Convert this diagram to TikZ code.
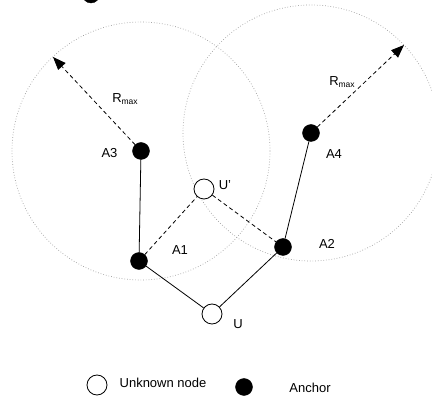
\documentclass[tikz,border=0pt]{standalone}
\usepackage{fontspec}
\setmainfont{Liberation Sans}
\usetikzlibrary{arrows.meta,backgrounds}
\newcommand{\rmaxlabel}{R\raisebox{-2.5pt}{\fontsize{8.5}{9}\selectfont max}}

\begin{document}
\begin{tikzpicture}[x=1pt,y=-1pt,
    every node/.style={font=\fontsize{13}{15}\selectfont},
    anchordot/.style={circle,fill=black,draw=black,inner sep=0pt,minimum size=17pt},
    unknowndot/.style={circle,fill=white,draw=black,line width=0.8pt,inner sep=0pt,minimum size=20pt},
    rangecircle/.style={draw=gray!75,dotted,line width=0.7pt},
    link/.style={line width=0.8pt},
    guess/.style={line width=0.8pt,dash pattern=on 4pt off 3pt},
    rangearrow/.style={guess,-{Triangle[length=13pt,width=10pt]}}]
    \useasboundingbox (0,0) rectangle (432,398);
    % Draw the anchors and the unknown node
    \node[anchordot] (A3) at (141,151) {};
    \node[anchordot] (A4) at (311,133) {};
    \node[anchordot] (A1) at (139,261) {};
    \node[anchordot] (A2) at (283,247) {};
    \node[unknowndot] (U) at (212,314) {};
    \node[unknowndot] (Up) at (204,189) {};
    \node[anchordot] (topdot) at (91,-5.5) {};
    % Draw the range circles
    \begin{scope}[on background layer]
      \draw[rangecircle] (A3) circle[radius=129pt];
      \draw[rangecircle] (A4) circle[radius=128pt];
    \end{scope}
    % Draw the links
    \draw[link] (A3) -- (A1);
    \draw[link] (A4) -- (A2);
    \draw[link] (A1) -- (U);
    \draw[link] (U) -- (A2);
    \draw[guess] (A1) -- (Up);
    \draw[guess] (Up) -- (A2);
    % Draw the range arrows
    \coordinate (tipL) at (53,57);
    \coordinate (tipR) at (404,45);
    \draw[rangearrow] (A3) -- (tipL);
    \draw[rangearrow] (A4) -- (tipR);
    % Draw the labels
    \node (lRL) at (125,99) {\rmaxlabel};
    \node (lRR) at (342,82) {\rmaxlabel};
    \node (lA3) at (109.5,153) {A3};
    \node (lA4) at (334,154) {A4};
    \node (lA1) at (180,250) {A1};
    \node (lA2) at (327,244) {A2};
    \node (lU) at (238,324) {U};
    \node (lUp) at (225,185) {U'};
    % Draw the legend
    \node[unknowndot] (legU) at (97,385) {};
    \node (legUtext) at (163,383) {Unknown node};
    \node[anchordot] (legA) at (244,387) {};
    \node (legAtext) at (310,388) {Anchor};
\end{tikzpicture}
\end{document}
